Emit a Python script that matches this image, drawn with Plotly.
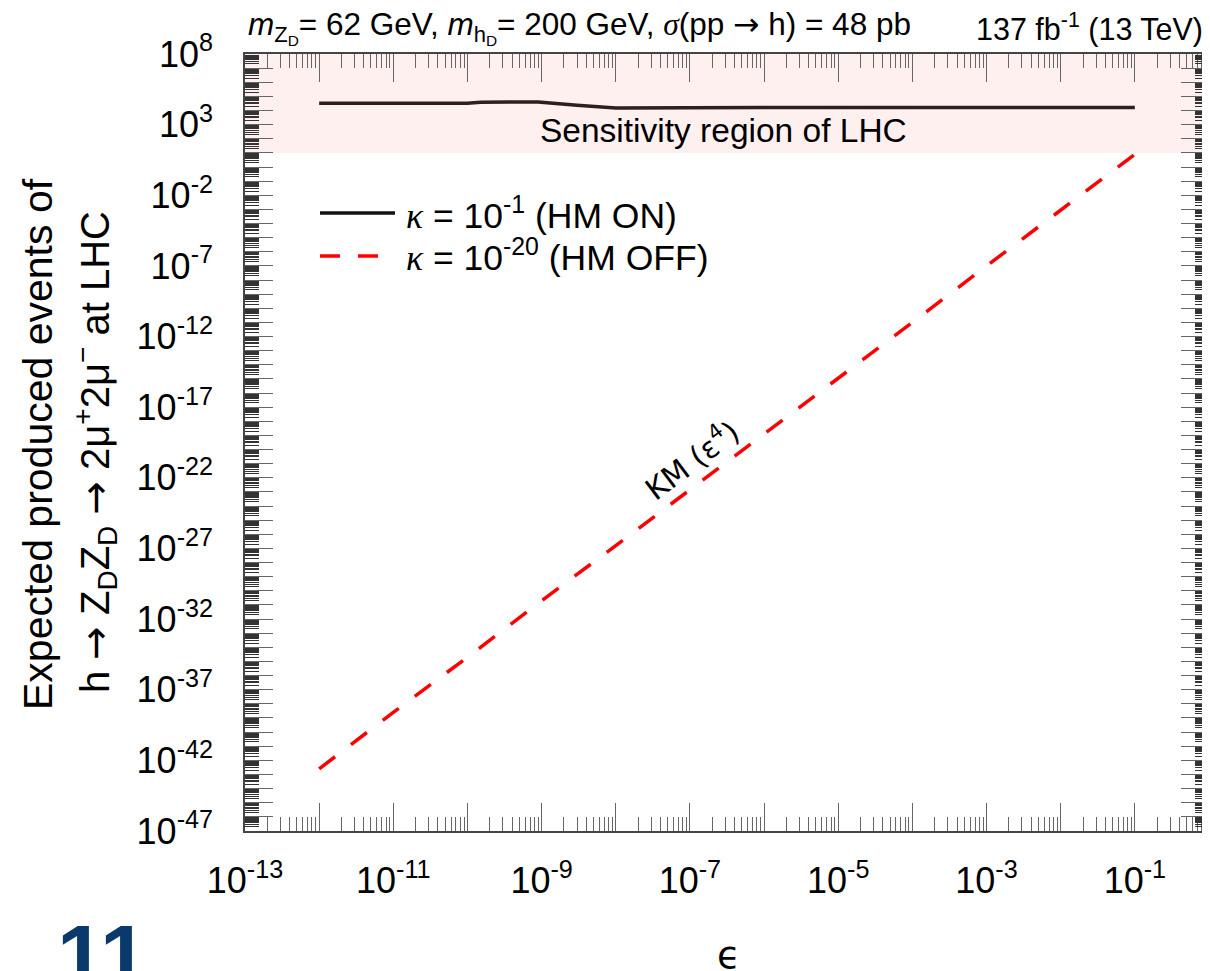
import plotly.graph_objects as go

# ---------------- data ----------------
eps_on = [1e-12, 1e-11, 1e-10, 1.5e-10, 5e-10, 9e-10, 3e-9, 1e-8, 1e-7, 1e-6, 1e-5, 1e-4, 1e-3, 1e-2, 1e-1]
events_on = [3.24e4, 3.24e4, 3.24e4, 3.89e4, 3.98e4, 3.98e4, 2.40e4, 1.51e4, 1.58e4, 1.66e4, 1.66e4, 1.66e4, 1.66e4, 1.66e4, 1.62e4]

eps_off = [1e-12, 1e-11, 1e-10, 1e-9, 1e-8, 1e-7, 1e-6, 1e-5, 1e-4, 1e-3, 1e-2, 1e-1]
events_off = [2.5e-43, 2.5e-39, 2.0e-35, 2.0e-31, 1.6e-27, 1.4e-23, 1.3e-19, 1.1e-15, 1.0e-11, 1.0e-7, 8.9e-4, 7.9e0]

x_decades = list(range(-13, 1))
x_label_decades = [-13, -11, -9, -7, -5, -3, -1]
y_decades = list(range(-47, 9))
y_label_decades = [8, 3, -2, -7, -12, -17, -22, -27, -32, -37, -42, -47]
sens_low, sens_high = 10.0, 1e8

# ---------------- geometry (page pixels; page has an 8px body margin) ----------------
OFF = 8
L, R, T, B = 245, 1209, 54, 831          # plot area in page pixels
W, H = 1210 - OFF, 971 - OFF             # figure size
def xp(px):
    return (px - L) / (R - L)
def yp(py):
    return (B - py) / (B - T)

FONT = "Liberation Sans, Arial, sans-serif"
ARROW = "<span style=\"font-family:'DejaVu Sans'\">→</span>"
SERIF_I = "<span style=\"font-family:'Liberation Serif'\"><i>%s</i></span>"

def tick_arrays(decades, labelled):
    vals = [10.0 ** d for d in decades]
    text = [("10<sup>%d</sup>" % d) if d in labelled else "" for d in decades]
    minor = [k * 10.0 ** d for d in decades[:-1] for k in range(2, 10)]
    return vals, text, minor

xv, xt, xm = tick_arrays(x_decades, x_label_decades)
yv, yt, ym = tick_arrays(y_decades, y_label_decades)

fig = go.Figure()
fig.add_trace(go.Scatter(x=eps_on, y=events_on, mode="lines", name="κ = 10^-1 (HM ON)",
                         line=dict(color="#2a2020", width=3.5), showlegend=False))
fig.add_trace(go.Scatter(x=eps_off, y=events_off, mode="lines", name="κ = 10^-20 (HM OFF)",
                         line=dict(color="#ff0000", width=3.5, dash="20px,20px"), showlegend=False))

fig.add_shape(type="rect", xref="paper", x0=0, x1=1, yref="y", y0=sens_low, y1=sens_high,
              fillcolor="#fff0f0", line=dict(width=0), layer="below")

axis_common = dict(type="log", showgrid=False, zeroline=False, showline=True, automargin=False,
                   linecolor="#444", linewidth=1.5, mirror="ticks",
                   ticks="inside", ticklen=28, tickwidth=1.2, tickcolor="#666",
                   tickmode="array", tickfont=dict(family=FONT, size=36, color="black"))

fig.update_xaxes(**axis_common, range=[-13, 0], tickvals=xv, ticktext=xt, ticklabelstandoff=17,
                 minor=dict(tickmode="array", tickvals=xm, ticks="inside", ticklen=14,
                            tickwidth=1.2, tickcolor="#666", showgrid=False))
fig.update_yaxes(**axis_common, range=[-47, 8], tickvals=yv, ticktext=yt, ticklabelstandoff=23,
                 minor=dict(tickmode="array", tickvals=ym, ticks="inside", ticklen=14,
                            tickwidth=1, tickcolor="#333", showgrid=False))

ann = []
ann.append(dict(x=xp(246), y=yp(28), xanchor="left", yanchor="middle",
                text="<i>m</i><sub>Z<sub>D</sub></sub>= 62 GeV, <i>m</i><sub>h<sub>D</sub></sub>= 200 GeV, "
                     + SERIF_I % "σ" + "(pp " + ARROW + " h) = 48 pb",
                font=dict(family=FONT, size=31.5, color="black")))
ann.append(dict(x=xp(1205), y=yp(28), xanchor="right", yanchor="middle",
                text="137 fb<sup>-1</sup> (13 TeV)", font=dict(family=FONT, size=30.5, color="black")))
ann.append(dict(x=xp(723), y=yp(131), xanchor="center", yanchor="middle",
                text="Sensitivity region of LHC", font=dict(family=FONT, size=33.5, color="black")))
kappa = SERIF_I % "κ"
ann.append(dict(x=xp(404), y=yp(213), xanchor="left", yanchor="middle",
                text=kappa + " = 10<sup>-1</sup> (HM ON)", font=dict(family=FONT, size=35.5, color="black")))
ann.append(dict(x=xp(404), y=yp(256), xanchor="left", yanchor="middle",
                text=kappa + " = 10<sup>-20</sup> (HM OFF)", font=dict(family=FONT, size=35.5, color="black")))
ann.append(dict(x=xp(691), y=yp(459), xanchor="center", yanchor="middle", textangle=-37,
                text="KM (ε<sup>4</sup>)", font=dict(family="DejaVu Sans", size=30, color="black")))
ann.append(dict(x=xp(728), y=yp(955), xanchor="center", yanchor="middle",
                text="ϵ", font=dict(family="DejaVu Sans", size=38, color="black")))
ann.append(dict(x=xp(38), y=yp(444), xanchor="center", yanchor="middle", textangle=-90,
                text="Expected produced events of", font=dict(family=FONT, size=41, color="black")))
ann.append(dict(x=xp(95), y=yp(452), xanchor="center", yanchor="middle", textangle=-90,
                text="h " + ARROW + " Z<sub>D</sub>Z<sub>D</sub> " + ARROW + " 2μ<sup>+</sup>2μ<sup>−</sup> at LHC",
                font=dict(family=FONT, size=40, color="black")))
ann.append(dict(x=xp(55), y=yp(955), xanchor="left", yanchor="middle",
                text="<b>11</b>", font=dict(family=FONT, size=86, color="#0a3a6b")))
for a in ann:
    a.update(xref="paper", yref="paper", showarrow=False)
fig.update_layout(annotations=ann)

# legend samples
fig.add_shape(type="line", xref="paper", yref="paper", x0=xp(320), x1=xp(395), y0=yp(213), y1=yp(213),
              line=dict(color="#111", width=3.5))
fig.add_shape(type="line", xref="paper", yref="paper", x0=xp(320), x1=xp(395), y0=yp(256), y1=yp(256),
              line=dict(color="#ff0000", width=3.5, dash="20px,18px"))

fig.update_layout(width=W, height=H,
                  margin=dict(l=L - OFF, r=W - (R - OFF), t=T - OFF, b=H - (B - OFF), pad=0),
                  paper_bgcolor="white", plot_bgcolor="white", showlegend=False)

fig.write_html("out.html")
